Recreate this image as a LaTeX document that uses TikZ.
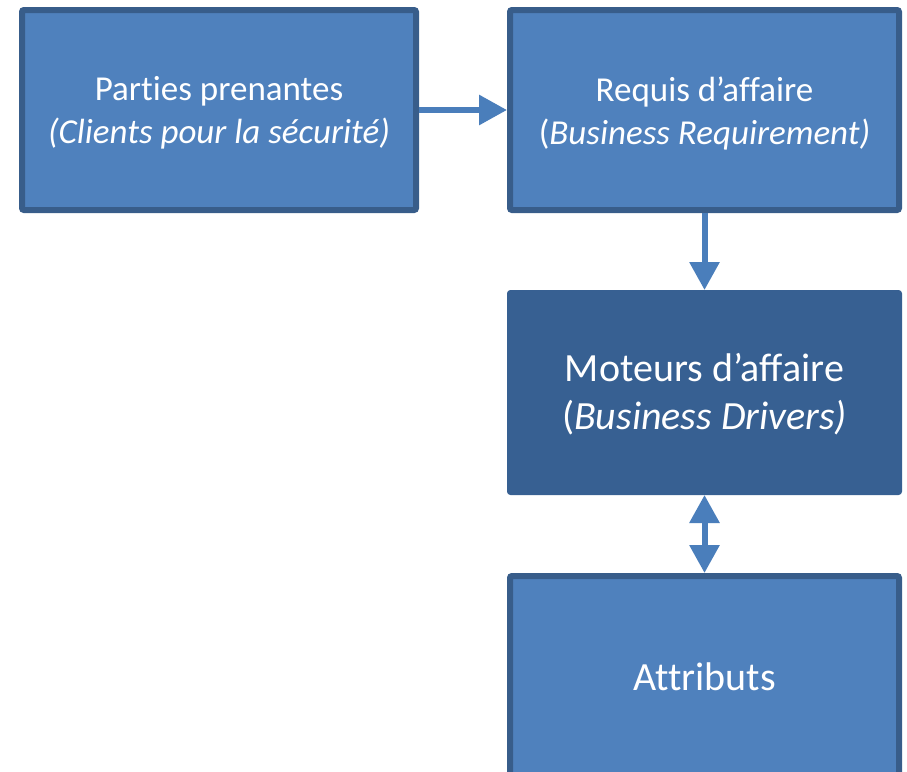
\documentclass[tikz,border=0pt]{standalone}
\usepackage{fontspec}
\setmainfont{Carlito}[Ligatures=NoCommon]
\usetikzlibrary{arrows.meta}
\definecolor{boxfill}{HTML}{4F81BD}
\definecolor{boxline}{HTML}{385D8A}
\definecolor{darkfill}{HTML}{376092}
\definecolor{arrowcol}{HTML}{4A7EBB}
\tikzset{
  bluebox/.style={draw=boxline, line width=6pt, fill=boxfill, rounded corners=2pt},
  darkbox/.style={draw=darkfill, line width=1pt, fill=darkfill, rounded corners=3pt},
  boxtext/.style={text=white, align=center, font=\fontsize{35}{43}\selectfont},
  bigtext/.style={text=white, align=center, font=\fontsize{40}{48}\selectfont},
  conn/.style={draw=arrowcol, line width=6pt, arrows={-Triangle[width=29pt,length=28pt]}},
  dconn/.style={draw=arrowcol, line width=6pt, arrows={Triangle[width=29pt,length=28pt]-Triangle[width=29pt,length=28pt]}}
}
\begin{document}
\begin{tikzpicture}[x=1pt,y=-1pt]
\useasboundingbox (0,0) rectangle (907,771);
\clip (0,0) rectangle (907,771);
% boxes
\draw[bluebox] (22,10) rectangle (416,210);
\node[boxtext] (b1) at (219,113) {Parties prenantes\\\textit{(Clients pour la sécurité)}};
\coordinate (b1e) at (419,110);
\draw[bluebox] (510,10) rectangle (899,210);
\node[boxtext] (b2) at (704.5,113) {Requis d’affaire\\(\textit{Business Requirement)}};
\coordinate (b2w) at (507,110);
\coordinate (b2s) at (704.5,213);
\draw[darkbox] (507.5,290.5) rectangle (901.5,494.5);
\node[bigtext] (b3) at (704.5,394) {Moteurs d’affaire\\(\textit{Business Drivers)}};
\coordinate (b3n) at (704.5,290);
\coordinate (b3s) at (704.5,495);
\draw[bluebox] (510,576) rectangle (899,780);
\node[bigtext] (b4) at (704.5,677) {Attributs};
\coordinate (b4n) at (704.5,573);
% connectors
\draw[conn] (b1e) -- (b2w);
\draw[conn] (b2s) -- (b3n);
\draw[dconn] (b3s) -- (b4n);
\end{tikzpicture}
\end{document}
